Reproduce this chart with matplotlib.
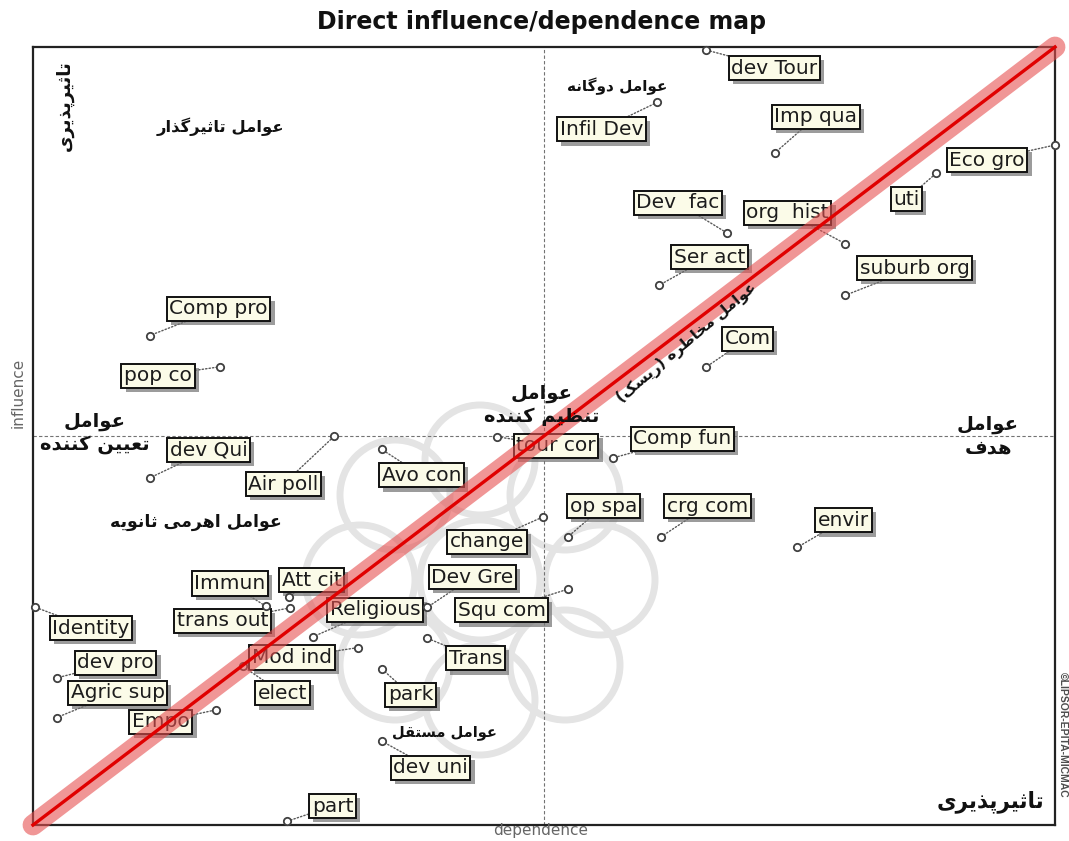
import matplotlib
matplotlib.use("Agg")
import matplotlib.pyplot as plt
import matplotlib.patheffects as pe
from matplotlib.patches import Circle

# ---------------- data ----------------
labels = ["dev Tour", "Infil Dev", "Imp qua", "Eco gro", "uti", "Dev  fac", "org  hist",
          "Ser act", "suburb org", "Com", "Comp pro", "pop co", "dev Qui", "Air poll",
          "Avo con", "tour cor", "Comp fun", "op spa", "crg com", "envir", "change",
          "Dev Gre", "Squ com", "Religious", "Immun", "Att cit", "trans out", "Trans",
          "Mod ind", "elect", "park", "Identity", "dev pro", "Agric sup", "Empo",
          "dev uni", "part"]
dependence = [65.9, 61.1, 72.6, 100.0, 88.4, 67.9, 79.5,
              61.3, 79.5, 65.9, 11.4, 18.3, 11.4, 29.5,
              34.1, 45.4, 56.8, 52.3, 61.4, 74.8, 49.9,
              38.6, 52.3, 27.4, 22.8, 25.0, 25.1, 38.6,
              31.8, 20.5, 34.1, 0.2, 2.3, 2.3, 17.9,
              34.1, 24.9]
influence = [99.6, 92.9, 86.4, 87.4, 83.8, 76.1, 74.7,
             69.4, 68.1, 58.9, 62.9, 58.9, 44.6, 50.0,
             48.3, 49.9, 47.2, 37.0, 37.0, 35.7, 39.6,
             28.0, 30.3, 24.2, 28.1, 29.3, 27.9, 24.0,
             22.8, 20.4, 20.1, 28.0, 18.9, 13.8, 14.8,
             10.8, 0.5]
# label offsets from point (pixels)
label_offsets = [(68, -18), (-56, -27), (41, 36), (-68, -15), (-30, -26), (-49, 30), (-58, 31),
                 (50, 28), (69, 27), (41, 28), (69, 27), (-62, -9), (59, 28), (-51, -48),
                 (40, -26), (59, -9), (69, 19), (36, 31), (47, 31), (46, 27), (-56, -25),
                 (45, 30), (-66, -21), (62, 27), (-36, 23), (23, 17), (-67, -13), (48, -20),
                 (-66, -10), (40, -27), (29, -26), (56, -21), (59, 15), (61, 25), (-55, -12),
                 (49, -27), (45, 15)]

title = "Direct influence/dependence map"

# ---------------- minimal Persian shaping ----------------
FORMS = {
    '\u0627': ('\uFE8D', '\uFE8E', None, None),
    '\u067E': ('\uFB56', '\uFB57', '\uFB58', '\uFB59'),
    '\u062A': ('\uFE95', '\uFE96', '\uFE97', '\uFE98'),
    '\u062B': ('\uFE99', '\uFE9A', '\uFE9B', '\uFE9C'),
    '\u062E': ('\uFEA5', '\uFEA6', '\uFEA7', '\uFEA8'),
    '\u062F': ('\uFEA9', '\uFEAA', None, None),
    '\u0630': ('\uFEAB', '\uFEAC', None, None),
    '\u0631': ('\uFEAD', '\uFEAE', None, None),
    '\u0632': ('\uFEAF', '\uFEB0', None, None),
    '\u0633': ('\uFEB1', '\uFEB2', '\uFEB3', '\uFEB4'),
    '\u0637': ('\uFEC1', '\uFEC2', '\uFEC3', '\uFEC4'),
    '\u0638': ('\uFEC5', '\uFEC6', '\uFEC7', '\uFEC8'),
    '\u0639': ('\uFEC9', '\uFECA', '\uFECB', '\uFECC'),
    '\u0641': ('\uFED1', '\uFED2', '\uFED3', '\uFED4'),
    '\u0642': ('\uFED5', '\uFED6', '\uFED7', '\uFED8'),
    '\u06A9': ('\uFB8E', '\uFB8F', '\uFB90', '\uFB91'),
    '\u06AF': ('\uFB92', '\uFB93', '\uFB94', '\uFB95'),
    '\u0644': ('\uFEDD', '\uFEDE', '\uFEDF', '\uFEE0'),
    '\u0645': ('\uFEE1', '\uFEE2', '\uFEE3', '\uFEE4'),
    '\u0646': ('\uFEE5', '\uFEE6', '\uFEE7', '\uFEE8'),
    '\u0647': ('\uFEE9', '\uFEEA', '\uFEEB', '\uFEEC'),
    '\u0648': ('\uFEED', '\uFEEE', None, None),
    '\u06CC': ('\uFBFC', '\uFBFD', '\uFBFE', '\uFBFF'),
}


def _shape(s):
    out = []
    for i, ch in enumerate(s):
        f = FORMS.get(ch)
        if f is None:
            out.append(ch)
            continue
        prev = s[i - 1] if i > 0 else ''
        nxt = s[i + 1] if i + 1 < len(s) else ''
        cp = prev in FORMS and FORMS[prev][2] is not None
        cn = nxt in FORMS and f[2] is not None
        if cp and cn:
            out.append(f[3])
        elif cp:
            out.append(f[1])
        elif cn:
            out.append(f[2])
        else:
            out.append(f[0])
    return ''.join(out)


def fa(text):
    lines = []
    for line in text.split('\n'):
        vis = _shape(line)[::-1].translate(str.maketrans('()', ')('))
        lines.append(vis)
    return '\n'.join(lines)


# ---------------- figure ----------------
W, H = 1069, 841
fig = plt.figure(figsize=(W / 100, H / 100), dpi=100)
fig.patch.set_facecolor('white')
L, R, T, B = 33, 1055, 47, 825
ax = fig.add_axes([L / W, (H - B) / H, (R - L) / W, (B - T) / H])
ax.set_xlim(0, 100)
ax.set_ylim(0, 100)
ax.set_xticks([])
ax.set_yticks([])
for s in ax.spines.values():
    s.set_linewidth(1.6)
    s.set_color('#222222')

# faint watermark ornament (decorative, in figure inches, behind everything)
wm_c = (480 / 100, (H - 580) / 100)
ring = [(0, 1.2), (0.85, 0.85), (1.2, 0), (0.85, -0.85), (0, -1.2), (-0.85, -0.85),
        (-1.2, 0), (-0.85, 0.85)]
for dx, dy in ring:
    ax.add_patch(Circle((wm_c[0] + dx, wm_c[1] + dy), 0.55, fill=False, ec='#e4e4e4', lw=5,
                        transform=fig.dpi_scale_trans, zorder=0.2, clip_on=False))
ax.add_patch(Circle(wm_c, 0.6, fill=False, ec='#e4e4e4', lw=5,
                    transform=fig.dpi_scale_trans, zorder=0.2, clip_on=False))

# quadrant lines
ax.axvline(50, color='0.45', lw=0.8, ls=(0, (3, 2)), zorder=1)
ax.axhline(50, color='0.45', lw=0.8, ls=(0, (3, 2)), zorder=1)

# labels with connectors
shadow = [pe.SimplePatchShadow(offset=(3, -3), shadow_rgbFace='0.45', alpha=0.7), pe.Normal()]
for name, x, y, off in zip(labels, dependence, influence, label_offsets):
    ann = ax.annotate(name, (x, y), xytext=off, textcoords='offset pixels',
                      ha='center', va='center', fontsize=14.5, family='DejaVu Sans',
                      color='#1c1c1c', zorder=4, annotation_clip=False,
                      bbox=dict(boxstyle='square,pad=0.13', fc='#fbfbe8', ec='#111111', lw=1.4),
                      arrowprops=dict(arrowstyle='-', ls=(0, (1, 1.5)), color='0.35', lw=1.0,
                                      shrinkA=0, shrinkB=3))
    ann.get_bbox_patch().set_path_effects(shadow)

ax.scatter(dependence, influence, s=28, facecolor='white', edgecolor='0.25',
           linewidth=1.3, zorder=5, clip_on=False)

# diagonal risk line
ax.plot([0, 100], [0, 100], color=(230 / 255, 80 / 255, 80 / 255), alpha=0.6, lw=15,
        solid_capstyle='round', clip_on=False, zorder=6)
ax.plot([0, 100], [0, 100], color='#e00000', lw=2.4, clip_on=False, zorder=7)


def fx(px):
    return (px - L) / (R - L)


def fy(py):
    return (B - py) / (B - T)


fa_kw = dict(family=['DejaVu Sans'], fontweight='bold', color='#111111',
             transform=ax.transAxes, ha='center', va='center', zorder=8)
ax.text(fx(65), fy(106), fa('تاثیرپذیری'), fontsize=13, rotation=90, **fa_kw)
ax.text(fx(220), fy(127), fa('عوامل تاثیرگذار'), fontsize=11.8, **fa_kw)
ax.text(fx(617), fy(86), fa('عوامل دوگانه'), fontsize=11, **fa_kw)
ax.text(fx(95), fy(433), fa('عوامل\nتعیین کننده'), fontsize=14, multialignment='center',
        linespacing=1.3, **fa_kw)
ax.text(fx(542), fy(405), fa('عوامل\nتنظیم کننده'), fontsize=14, multialignment='center',
        linespacing=1.3, **fa_kw)
ax.text(fx(988), fy(436), fa('عوامل\nهدف'), fontsize=14, multialignment='center',
        linespacing=1.3, **fa_kw)
ax.text(fx(196), fy(522), fa('عوامل اهرمی ثانویه'), fontsize=12.5, **fa_kw)
ax.text(fx(444), fy(732), fa('عوامل مستقل'), fontsize=10.5, **fa_kw)
ax.text(fx(990), fy(802), fa('تاثیرپذیری'), fontsize=15.5, **fa_kw)
ax.text(fx(687), fy(343), fa('عوامل مخاطره (ریسک)'), fontsize=11, rotation=40, **fa_kw)

# title and axis captions
fig.text(542 / W, 1 - 22 / H, title, ha='center', va='center', fontsize=17,
         fontweight='bold', family='DejaVu Sans', color='#111111')
fig.text(18 / W, 1 - 393 / H, 'influence', ha='center', va='center', rotation=90,
         fontsize=11, family='DejaVu Sans', color='0.4')
fig.text(541 / W, 1 - 831 / H, 'dependence', ha='center', va='center',
         fontsize=11, family='DejaVu Sans', color='0.4')
fig.text(1063 / W, 1 - 735 / H, '\u00a9LIPSOR-EPITA-MICMAC', ha='center', va='center',
         rotation=-90, fontsize=7.5, fontweight='bold', family='Liberation Sans', color='0.3')

fig.savefig('out.png', dpi=100)
